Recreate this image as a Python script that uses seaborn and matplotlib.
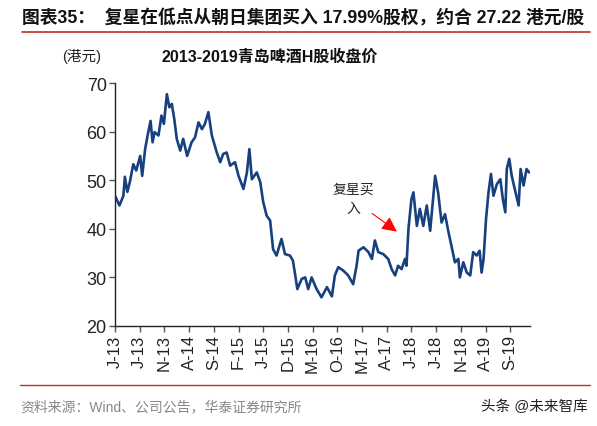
import matplotlib
matplotlib.use("Agg")
import matplotlib.pyplot as plt
import seaborn as sns
import pandas as pd

# months since Jan 2013
months = [0, 0.9, 1.7, 2.0, 2.5, 3.0, 3.7, 4.3, 5.1, 5.5, 6.1, 6.6, 7.2, 7.6, 8.0, 8.8,
          9.4, 9.9, 10.5, 11.0, 11.5, 12.0, 12.5, 13.2, 13.8, 14.6, 15.5, 16.2, 16.9, 17.6,
          18.2, 18.9, 19.6, 20.6, 21.3, 21.9, 22.6, 23.3, 24.3, 25.0, 26.0, 26.7, 27.2, 27.7,
          28.7, 29.4, 30.0, 30.7, 31.4, 32.0, 32.7, 33.7, 34.4, 35.4, 36.0, 36.4, 36.9, 37.8,
          38.5, 39.1, 39.8, 40.8, 41.8, 42.9, 43.9, 44.5, 45.2, 46.2, 47.2, 48.2, 48.9, 49.3,
          50.3, 51.3, 52.0, 52.6, 53.3, 54.3, 55.3, 56.0, 56.7, 57.3, 58.0, 58.7, 59.0, 59.4,
          60.0, 60.4, 61.1, 61.7, 62.4, 63.1, 63.8, 64.8, 65.4, 66.1, 66.8, 67.5, 68.1, 68.8,
          69.5, 69.8, 70.5, 71.2, 71.9, 72.5, 73.2, 73.8, 74.2, 74.6, 75.1, 75.6, 76.1, 76.6,
          77.3, 78.0, 78.5, 79.0, 79.3, 79.8, 80.3, 81.0, 81.7, 82.1, 82.7, 83.3, 83.8]
prices = [46.8, 44.8, 46.8, 50.7, 47.6, 49.6, 53.3, 52.0, 55.0, 50.9, 56.4, 59.2, 62.2, 57.8, 59.9, 59.2,
          63.3, 61.6, 67.7, 65.0, 65.7, 62.6, 58.5, 56.1, 58.5, 55.0, 57.8, 58.8, 61.9, 60.5,
          61.6, 64.0, 59.2, 55.7, 53.7, 55.4, 55.7, 53.0, 53.7, 50.9, 48.2, 51.6, 56.4, 50.2,
          51.6, 49.6, 45.5, 42.7, 41.7, 35.8, 34.5, 37.9, 34.8, 34.5, 33.5, 31.0, 27.6, 29.7,
          30.0, 27.6, 30.0, 27.6, 25.9, 28.0, 26.1, 30.4, 32.1, 31.4, 30.4, 28.6, 32.4, 35.5,
          36.2, 35.2, 33.8, 37.6, 35.2, 34.8, 33.8, 31.7, 30.4, 32.4, 31.7, 33.8, 32.4, 40.0,
          46.1, 47.5, 40.6, 44.1, 40.6, 44.8, 39.6, 50.9, 47.5, 41.3, 43.0, 39.3, 36.5, 33.1,
          33.8, 30.0, 33.1, 31.0, 30.4, 35.2, 34.5, 35.5, 31.0, 33.8, 42.0, 47.5, 51.3, 46.8,
          49.2, 50.2, 46.1, 43.4, 52.3, 54.4, 50.9, 47.8, 44.8, 52.3, 48.9, 52.3, 51.6]

tick_pos = [0, 5, 10, 15, 20, 25, 30, 35, 40, 45, 50, 55, 60, 65, 70, 75, 80]
tick_labels = ["J-13", "J-13", "N-13", "A-14", "S-14", "F-15", "J-15", "D-15", "M-16",
               "O-16", "M-17", "A-17", "J-18", "J-18", "N-18", "A-19", "S-19"]
y_ticks = [20, 30, 40, 50, 60, 70]

sns.set_style("white")
plt.rcParams["font.family"] = ["Liberation Sans", "Noto Sans CJK SC", "DejaVu Sans"]

df = pd.DataFrame({"month": months, "price": prices})

fig = plt.figure(figsize=(5.97, 4.27), dpi=100)
ax = fig.add_axes([115 / 597, 1 - 327 / 427, 415 / 597, 243 / 427])
sns.lineplot(data=df, x="month", y="price", ax=ax, color="#17407f", linewidth=1.9)

ax.set_xlim(0, 84)
ax.set_ylim(20, 70)
ax.set_xticks(tick_pos)
ax.set_xticklabels(tick_labels, rotation=90, fontsize=12)
ax.set_yticks(y_ticks)
ax.set_yticklabels([str(v) for v in y_ticks], fontsize=13)
ax.set_xlabel("")
ax.set_ylabel("")
for s in ["top", "right"]:
    ax.spines[s].set_visible(False)
for s in ["left", "bottom"]:
    ax.spines[s].set_color("#222222")
    ax.spines[s].set_linewidth(1.0)
ax.tick_params(axis="both", direction="out", length=4, width=1, color="#555555",
               colors="#222222", pad=2, bottom=True, left=True)

# annotation
ax.text(48.2, 48.3, "复星买", ha="center", va="center", fontsize=10, color="#222222")
ax.text(48.2, 44.2, "入", ha="center", va="center", fontsize=10, color="#222222")
ax.annotate("", xy=(57.5, 39.1), xytext=(51.6, 43.5),
            arrowprops=dict(arrowstyle="-|>,head_length=0.9,head_width=0.45",
                            color="#ff0000", lw=0.8))

# header / footer
fig.text(22 / 597, 1 - 18 / 427, "图表35：  复星在低点从朝日集团买入 17.99%股权，约合 27.22 港元/股",
         fontsize=12.8, fontweight="bold", va="center", ha="left", color="#111111")
fig.add_artist(plt.Line2D([22 / 597, 590 / 597], [1 - 33 / 427, 1 - 33 / 427],
                          color="#c0302a", linewidth=1.2))
fig.text(82 / 597, 1 - 57 / 427, "(港元)", fontsize=10.5, ha="center", va="center", color="#222222")
fig.text(270 / 597, 1 - 57 / 427, "2013-2019青岛啤酒H股收盘价", fontsize=11.5,
         fontweight="bold", ha="center", va="center", color="#111111")
fig.add_artist(plt.Line2D([20 / 597, 590 / 597], [1 - 386 / 427, 1 - 386 / 427],
                          color="#c0302a", linewidth=1.0))
fig.text(20 / 597, 1 - 407 / 427, "资料来源：Wind、公司公告，华泰证券研究所", fontsize=10,
         ha="left", va="center", color="#888888")
fig.text(588 / 597, 1 - 407 / 427, "头条 @未来智库", fontsize=10.5, ha="right", va="center",
         color="#222222")

fig.savefig("out.png", dpi=100)
